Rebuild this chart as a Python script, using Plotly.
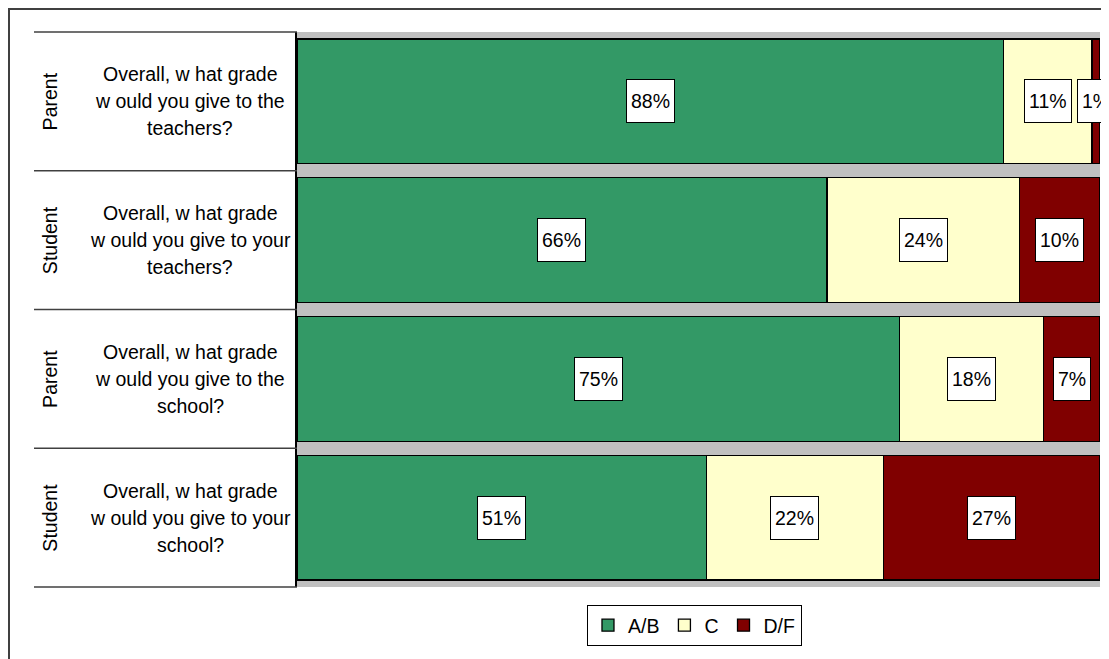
import plotly.graph_objects as go

# ---- data ----
respondents = ["Parent", "Student", "Parent", "Student"]
questions = [
    "Overall, w hat grade\nw ould you give to the\nteachers?",
    "Overall, w hat grade\nw ould you give to your\nteachers?",
    "Overall, w hat grade\nw ould you give to the\nschool?",
    "Overall, w hat grade\nw ould you give to your\nschool?",
]
series_names = ["A/B", "C", "D/F"]
ab_values = [88, 66, 75, 51]
c_values = [11, 24, 18, 22]
df_values = [1, 10, 7, 27]
series_colors = ["#339966", "#FFFFCC", "#800000"]

# ---- layout constants (pixels, page coordinates) ----
OFF = 8  # page body margin
W, H = 1109, 659
ML, MR, MT, MB = 297, 9, 32, 72
PW = W - ML - MR
PH = H - MT - MB
FONT = "Liberation Sans, Arial, sans-serif"
FS = 19.5


def px_x(px):
    return (px - ML) / PW


def px_y(py):
    return 1 - (py - MT) / PH


keys = [f"{r}|{q}" for r, q in zip(respondents, questions)]
all_series = [ab_values, c_values, df_values]

fig = go.Figure()
for name, vals, col in zip(series_names, all_series, series_colors):
    fig.add_trace(go.Bar(
        y=keys, x=vals, name=name, orientation="h",
        marker=dict(color=col, line=dict(color="black", width=1.3)),
        hoverinfo="skip",
    ))

annotations = []
# data labels
for i, k in enumerate(keys):
    base = 0
    for vals in all_series:
        v = vals[i]
        annotations.append(dict(
            x=base + v / 2, y=k, xref="x", yref="y",
            text=f"{v}%", showarrow=False,
            font=dict(family=FONT, size=FS, color="black"),
            bgcolor="white", bordercolor="black", borderwidth=1,
            borderpad=4, height=34,
        ))
        base += v

# category labels
n = len(keys)
for i, (r, q) in enumerate(zip(respondents, questions)):
    yc = 1 - (i + 0.5) / n
    annotations.append(dict(
        x=px_x(50), y=yc, xref="paper", yref="paper",
        text=r, textangle=-90, showarrow=False,
        font=dict(family=FONT, size=FS, color="black"),
        xanchor="center", yanchor="middle",
    ))
    lines = q.split("\n")
    for j, ln in enumerate(lines):
        off = (j - (len(lines) - 1) / 2) * 27
        annotations.append(dict(
            x=px_x(190), y=yc, xref="paper", yref="paper",
            text=ln, showarrow=False, yshift=-off,
            font=dict(family=FONT, size=FS, color="black"),
            xanchor="center", yanchor="middle",
        ))

shapes = []
# table lines
for i in range(n + 1):
    yy = 1 - i / n
    shapes.append(dict(
        type="line", xref="paper", yref="paper",
        x0=px_x(34), x1=0, y0=yy, y1=yy,
        line=dict(color="#404040", width=1.5),
    ))
# outer chart border (kept just inside the visible page area)
shapes.append(dict(
    type="rect", xref="paper", yref="paper",
    x0=px_x(OFF + 1), x1=px_x(1130), y0=px_y(680), y1=px_y(OFF + 1),
    line=dict(color="#404040", width=2), fillcolor="rgba(0,0,0,0)",
))

fig.update_layout(
    width=W - OFF, height=H - OFF,
    margin=dict(l=ML - OFF, r=MR, t=MT - OFF, b=MB),
    paper_bgcolor="white",
    plot_bgcolor="#C0C0C0",
    barmode="stack",
    bargap=0.1,
    showlegend=True,
    legend=dict(
        orientation="h", x=0.495, xanchor="center",
        y=px_y(605), yanchor="top",
        font=dict(family=FONT, size=FS, color="black"),
        bordercolor="black", borderwidth=1, bgcolor="white",
        itemwidth=30, traceorder="normal",
    ),
    xaxis=dict(range=[0, 100], showgrid=False, zeroline=False,
               showticklabels=False, ticks="", fixedrange=True),
    yaxis=dict(autorange="reversed", showticklabels=False, ticks="",
               showgrid=False, zeroline=False, showline=True,
               linecolor="black", linewidth=1.5, fixedrange=True),
    annotations=annotations,
    shapes=shapes,
    font=dict(family=FONT, size=FS, color="black"),
)

fig.write_html("out.html")
